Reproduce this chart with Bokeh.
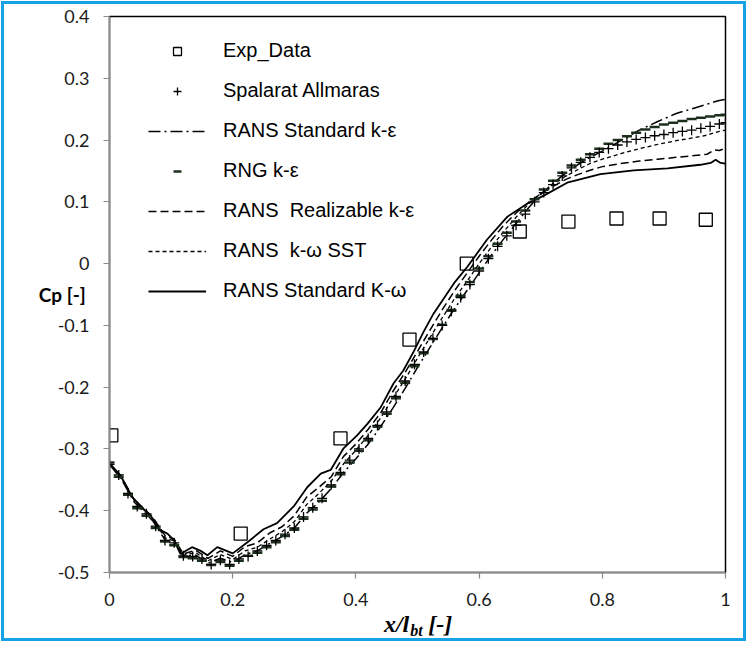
from bokeh.plotting import figure
from bokeh.models import (Range1d, FixedTicker, Legend, LegendItem, CustomJSTickFormatter,
                          LinearAxis)
from bokeh.embed import file_html
from bokeh.resources import INLINE

# ---------------- data ----------------
exp_x = [0.003, 0.213, 0.375, 0.487, 0.580, 0.666, 0.745, 0.823, 0.893, 0.968]
exp_y = [-0.278, -0.437, -0.283, -0.123, 0.000, 0.052, 0.068, 0.073, 0.073, 0.071]

mk_x = [0.000, 0.015, 0.030, 0.045, 0.060, 0.075, 0.090, 0.105, 0.120, 0.135,
        0.150, 0.165, 0.180, 0.195, 0.210, 0.225, 0.240, 0.255, 0.270, 0.285,
        0.300, 0.315, 0.330, 0.345, 0.360, 0.375, 0.390, 0.405, 0.420, 0.435,
        0.450, 0.465, 0.480, 0.495, 0.510, 0.525, 0.540, 0.555, 0.570, 0.585,
        0.600, 0.615, 0.630, 0.645, 0.660, 0.675, 0.690, 0.705, 0.720, 0.735,
        0.750, 0.765, 0.780, 0.795, 0.810, 0.825, 0.840, 0.855, 0.870, 0.885,
        0.900, 0.915, 0.930, 0.945, 0.960, 0.975, 0.990, 1.000]

sa_y = [-0.325, -0.342, -0.372, -0.393, -0.405, -0.425, -0.448, -0.452, -0.473, -0.474,
        -0.478, -0.487, -0.480, -0.487, -0.478, -0.474, -0.465, -0.456, -0.448, -0.438,
        -0.428, -0.410, -0.395, -0.380, -0.358, -0.338, -0.318, -0.300, -0.283, -0.262,
        -0.240, -0.215, -0.190, -0.163, -0.143, -0.121, -0.100, -0.077, -0.055, -0.034,
        -0.012, 0.008, 0.028, 0.045, 0.062, 0.080, 0.100, 0.115, 0.128, 0.142,
        0.155, 0.164, 0.172, 0.180, 0.186, 0.192, 0.197, 0.201, 0.204, 0.207,
        0.209, 0.212, 0.214, 0.216, 0.219, 0.222, 0.226, 0.228]

rng_y = [-0.322, -0.345, -0.374, -0.396, -0.408, -0.428, -0.450, -0.456, -0.475, -0.477,
         -0.481, -0.488, -0.483, -0.489, -0.481, -0.473, -0.468, -0.459, -0.451, -0.441,
         -0.431, -0.413, -0.398, -0.384, -0.361, -0.341, -0.322, -0.303, -0.286, -0.264,
         -0.243, -0.218, -0.193, -0.166, -0.145, -0.122, -0.099, -0.075, -0.052, -0.030,
         -0.008, 0.012, 0.032, 0.050, 0.068, 0.086, 0.104, 0.120, 0.134, 0.147,
         0.159, 0.168, 0.177, 0.186, 0.194, 0.200, 0.206, 0.212, 0.217, 0.221,
         0.225, 0.228, 0.231, 0.234, 0.236, 0.238, 0.240, 0.241]

ln_x = [0.00, 0.02, 0.04, 0.055, 0.07, 0.09, 0.105, 0.12, 0.14, 0.16,
        0.18, 0.20, 0.22, 0.24, 0.26, 0.28, 0.30, 0.32, 0.34, 0.36,
        0.38, 0.40, 0.42, 0.44, 0.46, 0.48, 0.50, 0.52, 0.54, 0.56,
        0.58, 0.60, 0.62, 0.64, 0.66, 0.68, 0.70, 0.72, 0.74, 0.76,
        0.78, 0.80, 0.83, 0.86, 0.89, 0.92, 0.95, 0.97, 0.982, 0.99, 1.00]

ke_y = [-0.325, -0.350, -0.386, -0.401, -0.416, -0.447, -0.452, -0.474, -0.472, -0.485,
        -0.477, -0.484, -0.471, -0.465, -0.453, -0.442, -0.428, -0.404, -0.386, -0.364,
        -0.338, -0.316, -0.292, -0.264, -0.234, -0.202, -0.168, -0.136, -0.104, -0.073,
        -0.044, -0.015, 0.014, 0.040, 0.065, 0.090, 0.112, 0.130, 0.146, 0.160,
        0.172, 0.182, 0.199, 0.216, 0.230, 0.243, 0.252, 0.258, 0.262, 0.264, 0.266]

re_y = [-0.324, -0.347, -0.382, -0.396, -0.410, -0.440, -0.446, -0.470, -0.464, -0.477,
        -0.465, -0.474, -0.458, -0.452, -0.436, -0.426, -0.408, -0.378, -0.362, -0.345,
        -0.312, -0.292, -0.268, -0.242, -0.207, -0.176, -0.142, -0.108, -0.075, -0.044,
        -0.016, 0.012, 0.038, 0.062, 0.082, 0.099, 0.113, 0.125, 0.136, 0.144,
        0.151, 0.157, 0.162, 0.166, 0.169, 0.172, 0.175, 0.177, 0.184, 0.183, 0.187]

sst_y = [-0.324, -0.348, -0.383, -0.398, -0.412, -0.444, -0.449, -0.472, -0.468, -0.481,
         -0.471, -0.479, -0.465, -0.459, -0.446, -0.434, -0.418, -0.390, -0.372, -0.352,
         -0.324, -0.302, -0.278, -0.250, -0.218, -0.187, -0.153, -0.120, -0.088, -0.057,
         -0.029, 0.000, 0.027, 0.052, 0.075, 0.096, 0.113, 0.128, 0.141, 0.152,
         0.162, 0.169, 0.178, 0.186, 0.193, 0.199, 0.204, 0.208, 0.212, 0.214, 0.216]

kw_x = [0.000, 0.018, 0.037, 0.053, 0.067, 0.080, 0.094, 0.105, 0.115, 0.134,
        0.148, 0.159, 0.175, 0.200, 0.224, 0.250, 0.272, 0.299, 0.321, 0.343,
        0.359, 0.380, 0.402, 0.419, 0.440, 0.461, 0.477, 0.494, 0.510, 0.526,
        0.559, 0.581, 0.613, 0.646, 0.678, 0.705, 0.743, 0.797, 0.851, 0.906,
        0.959, 0.976, 0.984, 0.992, 1.000]
kw_y = [-0.323, -0.343, -0.378, -0.395, -0.408, -0.430, -0.437, -0.448, -0.470, -0.459,
        -0.465, -0.472, -0.459, -0.469, -0.451, -0.430, -0.420, -0.393, -0.362, -0.340,
        -0.334, -0.299, -0.278, -0.259, -0.233, -0.194, -0.173, -0.142, -0.110, -0.081,
        -0.032, -0.005, 0.039, 0.076, 0.097, 0.110, 0.131, 0.145, 0.151, 0.154,
        0.160, 0.163, 0.168, 0.163, 0.162]

x_ticks = [0.0, 0.2, 0.4, 0.6, 0.8, 1.0]
x_tick_labels = ["0", "0.2", "0.4", "0.6", "0.8", "1"]
y_ticks = [-0.5, -0.4, -0.3, -0.2, -0.1, 0.0, 0.1, 0.2, 0.3, 0.4]
y_tick_labels = ["-0.5", "-0.4", "-0.3", "-0.2", "-0.1", "0", "0.1", "0.2", "0.3", "0.4"]

series_labels = ["Exp_Data", "Spalarat Allmaras", "RANS Standard k-ε", "RNG k-ε",
                 "RANS  Realizable k-ε", "RANS  k-ω SST", "RANS Standard K-ω"]

y_title = "Cp [-]"
# x title "x/l_bt [-]" split into main text pieces and the subscript
x_title_main = ["x/l", "[-]"]
x_title_sub = ["bt"]
# horizontal anchor of each title piece along the x axis (layout only)
x_title_main_at = [0.466, 0.537]
x_title_sub_at = [0.4985]

# ---------------- figure ----------------
p = figure(width=745, height=640, output_backend="svg", toolbar_location=None,
           x_range=Range1d(0, 1), y_range=Range1d(-0.5, 0.4),
           min_border_left=105, min_border_right=24, min_border_top=12, min_border_bottom=72)
p.styles = {"border": "3px solid #17a2e6", "margin": "1px"}
p.background_fill_color = "white"
p.border_fill_color = "white"
p.grid.visible = False
p.outline_line_color = "black"
p.outline_line_width = 1.5

fmt_code = "const i = vals.findIndex(v => Math.abs(v - tick) < 1e-9); return i >= 0 ? labs[i] : '';"
p.xaxis.ticker = FixedTicker(ticks=x_ticks)
p.xaxis.formatter = CustomJSTickFormatter(args=dict(vals=x_ticks, labs=x_tick_labels), code=fmt_code)
p.yaxis.ticker = FixedTicker(ticks=y_ticks)
p.yaxis.formatter = CustomJSTickFormatter(args=dict(vals=y_ticks, labs=y_tick_labels), code=fmt_code)
for ax in (p.xaxis, p.yaxis):
    ax.axis_line_color = "#8a8a8a"
    ax.axis_line_width = 1.5
    ax.major_tick_line_color = "#8a8a8a"
    ax.major_tick_line_width = 1.2
    ax.major_tick_out = 6
    ax.major_tick_in = 0
    ax.minor_tick_line_color = None
    ax.major_label_text_font = "Lato"
    ax.major_label_text_font_size = "18px"
    ax.major_label_text_color = "#1a1a1a"
p.xaxis.major_label_standoff = 14
p.yaxis.major_label_standoff = 14

# y title: horizontal, tucked into the tick-label column
yax = p.yaxis[0]
yax.axis_label = y_title
yax.axis_label_text_font = "Lato"
yax.axis_label_text_font_style = "bold"
yax.axis_label_text_font_size = "19px"
yax.axis_label_text_color = "black"
if hasattr(yax, "axis_label_orientation"):
    yax.axis_label_orientation = "horizontal"
    yax.axis_label_standoff = -31

# x title pieces drawn as tick labels of two extra, invisible axes
def title_axis(ticks, labels, size, standoff):
    ax = LinearAxis(ticker=FixedTicker(ticks=ticks),
                    formatter=CustomJSTickFormatter(args=dict(vals=ticks, labs=labels), code=fmt_code),
                    axis_line_color=None, major_tick_line_color=None, minor_tick_line_color=None,
                    major_tick_out=0, major_tick_in=0, major_label_standoff=standoff,
                    major_label_text_font="Liberation Serif", major_label_text_font_style="bold italic",
                    major_label_text_font_size=size, major_label_text_color="black")
    return ax

p.add_layout(title_axis(x_title_main_at, x_title_main, "24px", 2), "below")
p.add_layout(title_axis(x_title_sub_at, x_title_sub, "16px", -18), "below")

# ---------------- series ----------------
r_ke = p.line(ln_x, ke_y, line_color="black", line_width=1.5, line_dash="12 4 2 4")
r_re = p.line(ln_x, re_y, line_color="black", line_width=1.5, line_dash="8 4")
r_sst = p.line(ln_x, sst_y, line_color="black", line_width=1.3, line_dash="4 3")
r_kw = p.line(kw_x, kw_y, line_color="black", line_width=1.8)
r_rng = p.scatter(mk_x, rng_y, marker="dash", size=10, line_color="#1c2e1c", line_width=2.5)
r_sa = p.scatter(mk_x, sa_y, marker="cross", size=10, line_color="black", line_width=1.3)
r_exp = p.scatter(exp_x, exp_y, marker="square", size=13, line_color="black", line_width=1.3,
                  fill_alpha=0)

legend = Legend(items=[
    LegendItem(label=series_labels[0], renderers=[r_exp]),
    LegendItem(label=series_labels[1], renderers=[r_sa]),
    LegendItem(label=series_labels[2], renderers=[r_ke]),
    LegendItem(label=series_labels[3], renderers=[r_rng]),
    LegendItem(label=series_labels[4], renderers=[r_re]),
    LegendItem(label=series_labels[5], renderers=[r_sst]),
    LegendItem(label=series_labels[6], renderers=[r_kw]),
], location=(39, 270), padding=0, margin=0, spacing=17,
   glyph_width=58, glyph_height=20, label_height=20, label_standoff=17,
   background_fill_alpha=0, border_line_color=None,
   label_text_font="Liberation Sans", label_text_font_size="20px", label_text_color="black")
p.add_layout(legend)

open("out.html", "w").write(file_html(p, INLINE))
